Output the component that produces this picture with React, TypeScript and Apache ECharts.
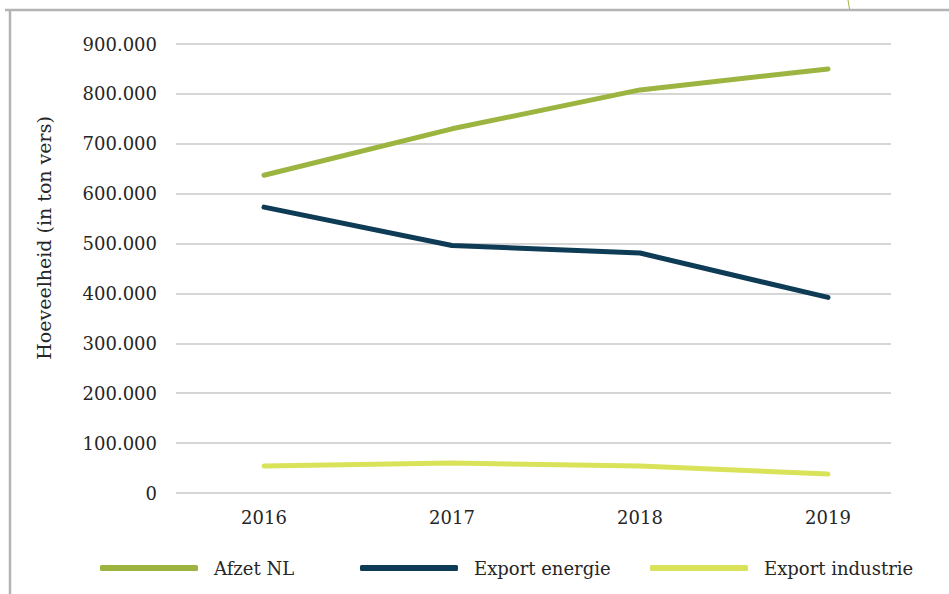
import React, { useEffect, useRef } from "react";
import * as echarts from "echarts";

const years = ["2016", "2017", "2018", "2019"];
const afzetNL = [637000, 730000, 808000, 850000];
const exportEnergie = [573000, 496000, 481000, 392000];
const exportIndustrie = [54000, 60000, 54000, 38000];
const seriesNames = ["Afzet NL", "Export energie", "Export industrie"];
const seriesColors = ["#9cb440", "#0e3b55", "#d9e35a"];
const yAxisTitle = "Hoeveelheid (in ton vers)";

const FONT = "DejaVu Serif";
const TXT = "#262626";

function fmt(v: number) {
  return String(v).replace(/\B(?=(\d{3})+(?!\d))/g, ".");
}

export default function App() {
  const ref = useRef<HTMLDivElement>(null);
  useEffect(() => {
    if (!ref.current) return;
    const chart = echarts.init(ref.current, undefined, { renderer: "svg" });
    const values = [afzetNL, exportEnergie, exportIndustrie];
    const legendLefts = [100, 360, 650];
    chart.setOption({
      animation: false,
      backgroundColor: "#ffffff",
      textStyle: { fontFamily: FONT },
      grid: [
        { left: 176, right: 58, top: 44, bottom: 101 },
        { left: 170, right: 27, top: 44, bottom: 101 },
      ],
      xAxis: [
        { gridIndex: 0, type: "value", show: false, min: 0, max: 1 },
        {
          gridIndex: 1,
          type: "category",
          data: years,
          boundaryGap: true,
          axisLine: { show: false },
          axisTick: { show: false },
          axisLabel: { color: TXT, fontSize: 18, fontFamily: FONT, margin: 15 },
        },
      ],
      yAxis: [
        {
          gridIndex: 0,
          type: "value",
          min: 0,
          max: 900000,
          interval: 100000,
          axisLine: { show: false },
          axisTick: { show: false },
          splitLine: { lineStyle: { color: "#c8c8c8", width: 1.5 } },
          axisLabel: {
            color: TXT,
            fontSize: 18,
            fontFamily: FONT,
            margin: 19,
            formatter: (v: number) => fmt(v),
          },
        },
        { gridIndex: 1, type: "value", min: 0, max: 900000, show: false },
      ],
      legend: seriesNames.map((n, i) => ({
        data: [n],
        left: legendLefts[i],
        top: 559,
        padding: 0,
        icon: "roundRect",
        itemWidth: 98,
        itemHeight: 6,
        textStyle: {
          color: TXT,
          fontSize: 18,
          fontFamily: FONT,
          padding: [0, 0, 0, 11],
        },
      })),
      series: seriesNames.map((n, i) => ({
        name: n,
        type: "line",
        xAxisIndex: 1,
        yAxisIndex: 1,
        data: values[i],
        showSymbol: false,
        symbol: "none",
        color: seriesColors[i],
        lineStyle: { width: 5, color: seriesColors[i], cap: "round", join: "round" },
      })),
      graphic: [
        {
          type: "line",
          shape: { x1: 5, y1: 10, x2: 949, y2: 10 },
          style: { stroke: "#b4b4b4", lineWidth: 2.5 },
        },
        {
          type: "line",
          shape: { x1: 10, y1: 10, x2: 10, y2: 594 },
          style: { stroke: "#b4b4b4", lineWidth: 2.5 },
        },
        {
          type: "line",
          shape: { x1: 848, y1: 0, x2: 849.5, y2: 9 },
          style: { stroke: "#9cb440", lineWidth: 1 },
        },
        {
          type: "text",
          x: 44,
          y: 238,
          rotation: Math.PI / 2,
          style: {
            text: yAxisTitle,
            fill: TXT,
            font: `19px '${FONT}'`,
            align: "center",
            verticalAlign: "middle",
          },
        },
      ],
    });
    return () => chart.dispose();
  }, []);
  return (
    <div
      ref={ref}
      style={{ position: "absolute", left: 0, top: 0, width: 949, height: 594 }}
    />
  );
}
